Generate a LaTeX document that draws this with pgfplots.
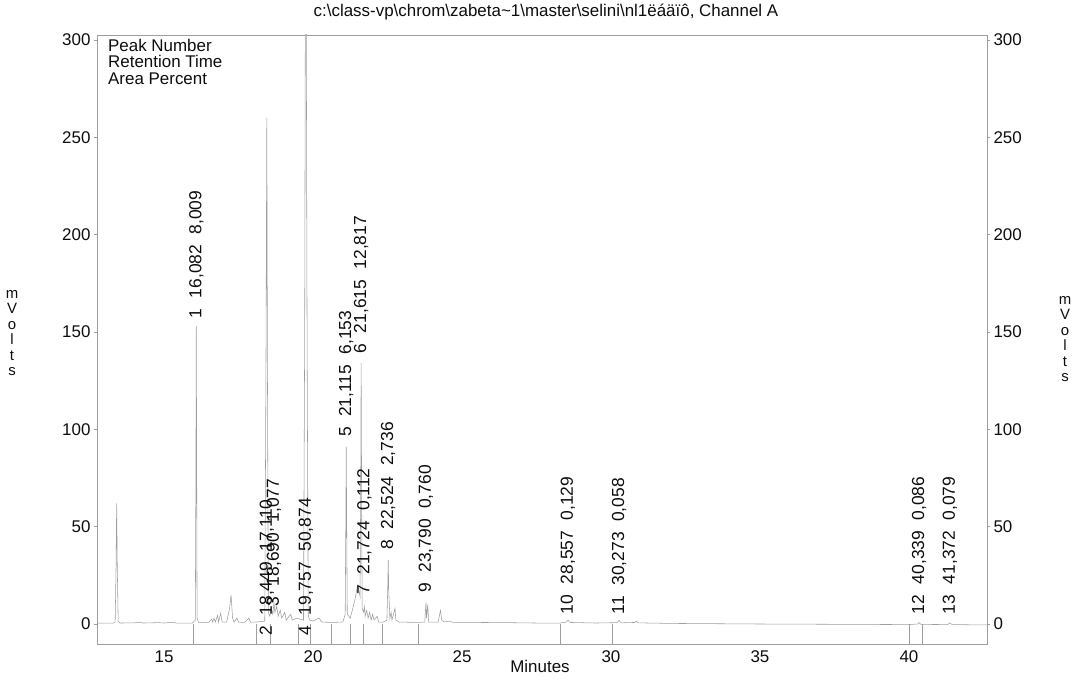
\documentclass[border=0pt]{standalone}
\usepackage{pgfplots}
\pgfplotsset{compat=1.18}
\usepackage{fontspec}
\setmainfont{Liberation Sans}

\definecolor{trace}{gray}{0.62}
\definecolor{frame}{gray}{0.62}
\definecolor{ink}{gray}{0.05}

\newcommand{\pk}[3]{#1\hspace{0.6em}#2\hspace{0.6em}#3}

\begin{document}
\begin{tikzpicture}[x=1bp,y=1bp]
\path[use as bounding box] (-97,-37) rectangle (983,644);

\begin{axis}[
  name=main,
  at={(0,0)}, anchor=south west,
  scale only axis, width=890bp, height=609bp,
  xmin=12.75, xmax=42.62, ymin=-10.27, ymax=302.6,
  axis line style={frame, line width=0.6pt},
  xtick={15,20,25,30,35,40},
  ytick={0,50,100,150,200,250,300},
  xtick style={draw=none},
  ytick pos=left, tick align=outside,
  ytick style={frame, line width=0.6pt},
  major tick length=3bp,
  tick label style={font=\fontsize{17}{19}\selectfont, text=ink},
  /pgf/number format/assume math mode=true,
  clip=true,
]
% chromatogram trace
\addplot[trace, line width=0.55pt] coordinates {
(12.75,0.5) (13.30,0.5) (13.36,1) (13.39,30) (13.41,62) (13.43,30) (13.46,1.5) (13.52,0.5)
(14.00,0.6) (14.20,0.9) (14.30,0.5) (14.80,0.7) (15.00,0.5) (15.30,0.9) (15.40,0.5)
(15.95,0.5) (16.05,2) (16.07,80) (16.082,153) (16.095,80) (16.11,3) (16.16,0.8)
(16.50,0.8) (16.60,2.5) (16.63,1) (16.68,3) (16.72,1) (16.80,4.5) (16.83,1) (16.90,5.5) (16.95,1)
(17.10,1) (17.20,8) (17.25,15) (17.30,3) (17.35,1) (17.45,3) (17.50,1) (17.70,0.8) (17.85,3) (17.90,1) (18.10,1)
(18.38,1.5) (18.42,130) (18.449,260) (18.47,130) (18.50,6) (18.55,4) (18.60,8) (18.65,5) (18.69,11) (18.72,6)
(18.78,9) (18.83,4) (18.90,7) (18.95,3) (19.05,6) (19.10,2) (19.25,5) (19.30,2) (19.45,3)
(19.68,2) (19.72,150) (19.745,330) (19.77,330) (19.80,150) (19.84,4) (19.90,2) (20.00,1.5) (20.20,3) (20.30,1) (20.60,0.8)
(21.00,1) (21.08,5) (21.10,50) (21.115,91) (21.13,50) (21.15,5) (21.20,4) (21.25,3) (21.40,12) (21.50,20) (21.58,14)
(21.60,70) (21.615,134) (21.63,70) (21.65,8) (21.70,6) (21.724,9) (21.75,4) (21.80,7) (21.85,3) (21.90,6) (21.95,2)
(22.00,5) (22.05,2) (22.15,4) (22.20,1) (22.35,1)
(22.48,2) (22.51,20) (22.524,33) (22.54,18) (22.58,3) (22.62,6) (22.65,2) (22.75,8) (22.78,2) (22.90,1) (23.50,0.8)
(23.75,1) (23.79,11) (23.81,3) (23.85,10) (23.88,1) (24.20,1) (24.25,5) (24.28,7) (24.32,2) (24.40,1) (24.60,1.5) (24.70,0.8)
(25.50,0.8) (26.50,0.7) (27.50,0.5) (28.30,0.5) (28.50,1) (28.557,2) (28.62,0.8) (29.50,0.5)
(30.20,0.7) (30.273,1.8) (30.35,0.6) (30.80,0.8) (30.85,1.5) (30.90,0.6) (32.00,0.3) (35.00,0)
(40.00,-0.3) (40.30,0) (40.339,0.8) (40.40,-0.2) (41.30,-0.3) (41.372,0.6) (41.45,-0.3) (42.62,-0.5)
};
% integration event marks below the baseline
\addplot[ycomb, trace, line width=0.55pt] coordinates {
(15.98,-10.3) (18.11,-10.3) (18.56,-10.3) (19.51,-10.3) (19.90,-10.3) (20.60,-10.3)
(21.24,-10.3) (21.67,-10.3) (22.33,-10.3) (23.53,-10.3) (28.31,-10.3) (30.04,-10.3)
(40.01,-10.3) (40.45,-10.3)
};
% peak annotations: number, retention time, area percent
\begin{scope}[every node/.style={rotate=90, anchor=west, inner sep=0pt, text=ink,
    font=\fontsize{17.5}{19}\selectfont}]
\node at (axis cs:16.082,157) {\pk{1}{16,082}{8,009}};
\node at (axis cs:18.449,-6) {\pk{2}{18,449}{17,110}};
\node at (axis cs:18.690,9) {\pk{3}{18,690}{1,077}};
\node at (axis cs:19.757,-6) {\pk{4}{19,757}{50,874}};
\node at (axis cs:21.115,96) {\pk{5}{21,115}{6,153}};
\node at (axis cs:21.615,139) {\pk{6}{21,615}{12,817}};
\node at (axis cs:21.724,15) {\pk{7}{21,724}{0,112}};
\node at (axis cs:22.524,38) {\pk{8}{22,524}{2,736}};
\node at (axis cs:23.790,16) {\pk{9}{23,790}{0,760}};
\node at (axis cs:28.557,5) {\pk{10}{28,557}{0,129}};
\node at (axis cs:30.273,5) {\pk{11}{30,273}{0,058}};
\node at (axis cs:40.339,5) {\pk{12}{40,339}{0,086}};
\node at (axis cs:41.372,5) {\pk{13}{41,372}{0,079}};
\end{scope}
\end{axis}

% right-hand scale
\begin{axis}[
  at={(0,0)}, anchor=south west,
  scale only axis, width=890bp, height=609bp,
  xmin=12.75, xmax=42.62, ymin=-10.27, ymax=302.6,
  axis x line=none,
  axis y line*=right,
  axis line style={frame, line width=0.6pt, -},
  ytick={0,50,100,150,200,250,300},
  tick align=outside,
  ytick style={frame, line width=0.6pt},
  major tick length=3bp,
  tick label style={font=\fontsize{17}{19}\selectfont, text=ink},
  /pgf/number format/assume math mode=true,
]
\addplot[draw=none] coordinates {(15,0)};
\end{axis}

% titles and labels
\node[text=ink, font=\fontsize{17}{19}\selectfont] at (449,632)
  {c:\textbackslash class-vp\textbackslash chrom\textbackslash zabeta\textasciitilde 1\textbackslash master\textbackslash selini\textbackslash nl1ëáäïô, Channel A};
\node[text=ink, anchor=north west, align=left, inner sep=0pt,
  font=\fontsize{17}{16.5}\selectfont] at (11,605)
  {Peak Number\\Retention Time\\Area Percent};
\node[text=ink, align=center, inner sep=0pt, font=\fontsize{15}{15.5}\selectfont]
  at (-85,311) {m\\V\\o\\l\\t\\s};
\node[text=ink, align=center, inner sep=0pt, font=\fontsize{15}{15.5}\selectfont]
  at (968,305) {m\\V\\o\\l\\t\\s};
\node[text=ink, font=\fontsize{17}{19}\selectfont] at (443,-22) {Minutes};
\end{tikzpicture}
\end{document}
